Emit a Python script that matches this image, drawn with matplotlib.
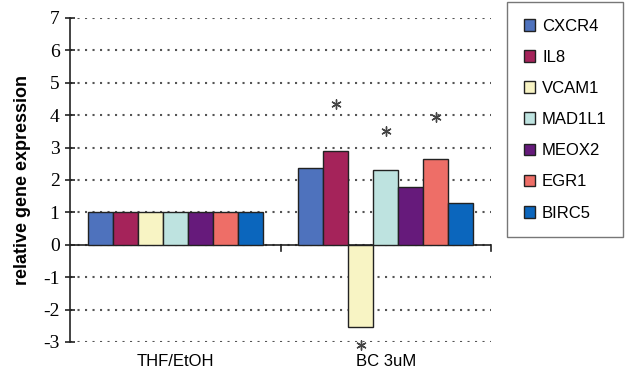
import numpy as np
import matplotlib
matplotlib.use("Agg")
import matplotlib.pyplot as plt

plt.rcParams["axes.unicode_minus"] = False

groups = ["THF/EtOH", "BC 3uM"]
genes = ["CXCR4", "IL8", "VCAM1", "MAD1L1", "MEOX2", "EGR1", "BIRC5"]
colors = ["#4E72BD", "#A5235A", "#F8F4C4", "#BEE3E0", "#661A7B", "#EE6E67", "#0B66BD"]
thf = [1, 1, 1, 1, 1, 1, 1]
bc = [2.36, 2.88, -2.55, 2.3, 1.77, 2.64, 1.3]
# significance marks: (gene index, y position)
stars = [(1, 4.35), (2, -3.1), (3, 3.5), (5, 3.95)]

fig = plt.figure(figsize=(6.39, 3.76), dpi=100)
ax = fig.add_axes([70 / 639, 34 / 376, 421 / 639, 324 / 376])

x = np.arange(len(groups))
w = 0.833 / len(genes)
for i, g in enumerate(genes):
    vals = [thf[i], bc[i]]
    ax.bar(x + (i - 3) * w, vals, w, color=colors[i], edgecolor="#222222",
           linewidth=1.0, label=g, zorder=3)

sx = [1 + (i - 3) * w for i, _ in stars]
sy = [y for _, y in stars]
ax.scatter(sx, sy, marker=(6, 2, 0), s=45, color="#444444", linewidths=1.0,
           zorder=4, clip_on=False)

ax.set_xlim(-0.5, 1.5)
ax.set_ylim(-3, 7)
ax.set_yticks(range(-3, 8))
ax.yaxis.grid(True, linestyle=(0, (1, 2.6)), linewidth=1.5, color="#555555", zorder=0)
ax.axhline(0, color="#222222", linewidth=1.2, zorder=2)
# category separator ticks on the zero line
zero_frac = 3 / 10
for xt in [0.5, 1.5]:
    ax.axvline(xt, ymin=zero_frac - 0.02, ymax=zero_frac, color="#222222", linewidth=1.2, clip_on=False)

for s in ["top", "right", "bottom"]:
    ax.spines[s].set_visible(False)
ax.spines["left"].set_linewidth(1.2)
ax.spines["left"].set_color("#222222")
ax.tick_params(axis="y", direction="inout", length=7, width=1.2, color="#222222", pad=4)
for lab in ax.get_yticklabels():
    lab.set_family("Liberation Serif")
    lab.set_fontsize(14)
ax.set_xticks(x)
ax.set_xticklabels(groups, fontsize=12, family="Liberation Sans")
ax.tick_params(axis="x", length=0, pad=9)
ax.set_ylabel("relative gene expression", fontsize=13, fontweight="bold",
              family="Liberation Sans", labelpad=9)

leg = fig.legend(loc="upper left", bbox_to_anchor=(507 / 639, 1 - 2 / 376),
                 borderaxespad=0, frameon=True, fancybox=False, edgecolor="#555555",
                 prop={"family": "Liberation Sans", "size": 12},
                 handlelength=0.7, handleheight=0.7, handletextpad=0.4,
                 labelspacing=0.97, borderpad=1.0)
leg.get_frame().set_linewidth(1.0)

fig.savefig("out.png", dpi=100)
